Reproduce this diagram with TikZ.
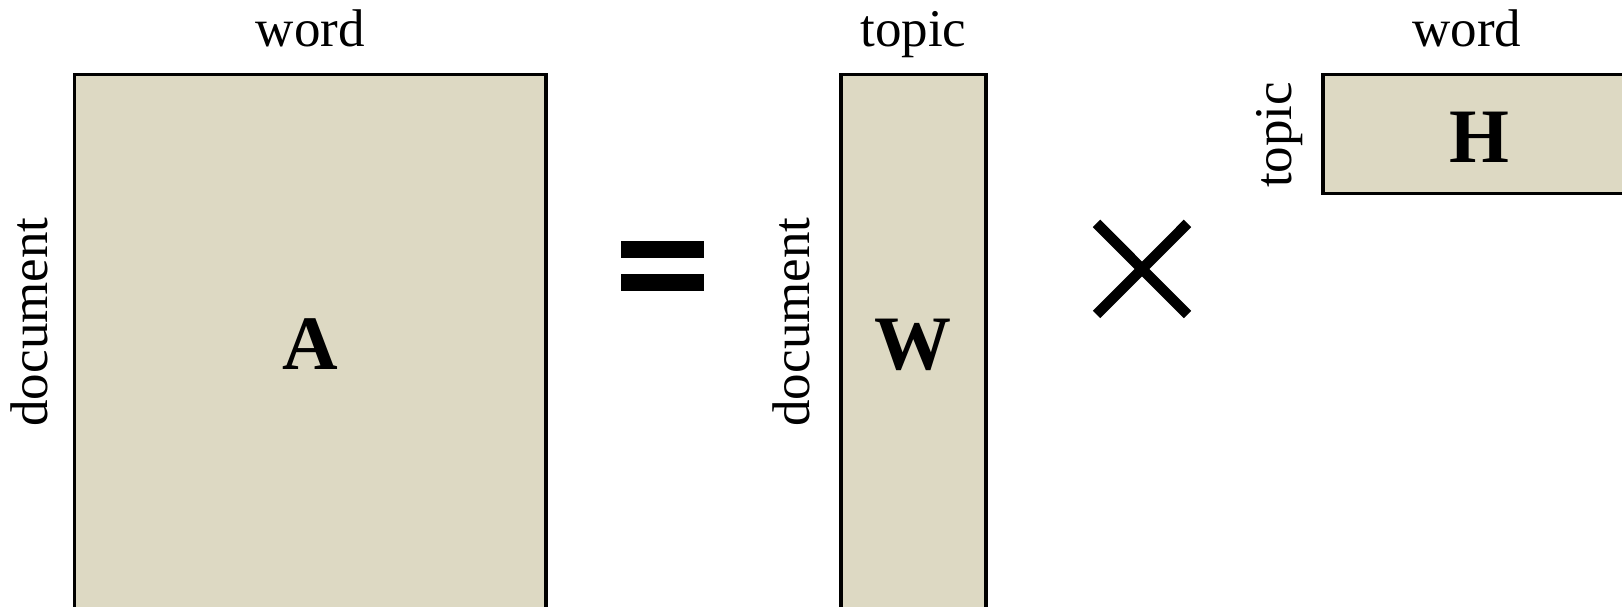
\documentclass[tikz,border=0pt]{standalone}
\usepackage{fontspec}
\setmainfont{Liberation Serif}
\definecolor{matfill}{RGB}{221,217,195}
\tikzset{
  mat/.style={draw=black, fill=matfill, line width=3.7pt, inner sep=0pt, rectangle},
  lab/.style={font=\fontsize{53}{58}\selectfont, inner sep=0pt, anchor=base},
  vlab/.style={font=\fontsize{53}{58}\selectfont, inner sep=0pt, rotate=90},
  big/.style={font=\fontsize{77}{82}\selectfont\bfseries, inner sep=0pt},
  opline/.style={line width=10.5pt, line cap=butt}
}
\begin{document}
\begin{tikzpicture}[x=1pt,y=-1pt]
\useasboundingbox (0,0) rectangle (1622,607);
% matrix A
\node[mat, minimum width=471.7pt, minimum height=540pt] (Arect) at (310.3,344.5) {};
\node[big] (A) at (310.3,344.5) {A};
\node[lab] (Aword) at (310.3,47) {word};
\node[vlab] (Adoc) at (29,322) {document};
% equals sign
\node[fill=black, inner sep=0pt, minimum width=83pt, minimum height=17pt] (eqtop) at (662,249.8) {};
\node[fill=black, inner sep=0pt, minimum width=83pt, minimum height=17pt] (eqbot) at (662,282.3) {};
% matrix W
\node[mat, minimum width=144.8pt, minimum height=540pt] (Wrect) at (913.4,344.5) {};
\node[big] (W) at (913.4,344.5) {W};
\node[lab] (Wtopic) at (913.4,47) {topic};
\node[vlab] (Wdoc) at (791,322) {document};
% times sign
\coordinate (x1) at (1096.5,223.4);
\coordinate (x2) at (1187.5,314.5);
\coordinate (x3) at (1096.5,314.5);
\coordinate (x4) at (1187.5,223.4);
\draw[opline] (x1) -- (x2);
\draw[opline] (x3) -- (x4);
% matrix H
\node[mat, minimum width=330pt, minimum height=118.9pt] (Hrect) at (1488,134) {};
\node[big] (H) at (1479,137.6) {H};
\node[lab] (Hword) at (1466.8,47) {word};
\node[vlab] (Htopic) at (1280,135) {topic};
\end{tikzpicture}
\end{document}
